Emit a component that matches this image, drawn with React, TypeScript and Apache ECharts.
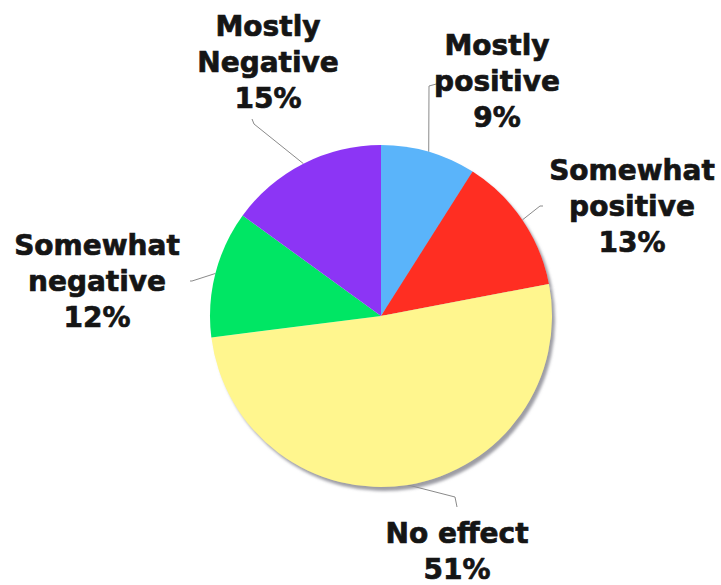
import React, { useEffect, useRef } from "react";
import * as echarts from "echarts";

const categories = ["Mostly\npositive", "Somewhat\npositive", "No effect", "Somewhat\nnegative", "Mostly\nNegative"];
const values = [9, 13, 51, 12, 15];
const colors = ["#5ab4fa", "#ff2e22", "#fff68e", "#00e664", "#8c35f5"];
const labelPos: [number, number][] = [
  [497, 81],
  [632, 206],
  [457, 551],
  [97, 281],
  [268, 62],
];
// bend and end points of each label's guide line
const guidePts: [number, number][][] = [
  [[429, 86], [440, 83]],
  [[540, 206], [543, 206]],
  [[455, 497], [457, 507]],
  [[192, 281], [190, 281]],
  [[254, 124], [252, 119]],
];

export default function App() {
  const ref = useRef<HTMLDivElement>(null);
  useEffect(() => {
    document.body.style.margin = "0";
    const chart = echarts.init(ref.current!, null, { renderer: "svg" });
    const shadowIdx = [0, 1, 2];
    chart.setOption({
      animation: false,
      backgroundColor: "#ffffff",
      series: [
        {
          type: "pie",
          center: [381, 316],
          radius: 171,
          startAngle: 90,
          clockwise: true,
          label: {
            show: true,
            formatter: (p: any) => `${p.name}\n${p.value}%`,
            fontFamily: "DejaVu Sans",
            fontWeight: "bold",
            fontSize: 28,
            lineHeight: 36,
            color: "#151515",
            textBorderColor: "#151515",
            textBorderWidth: 0.7,
            align: "center",
            overflow: "none",
          },
          labelLine: {
            show: true,
            length: 20,
            length2: 12,
            lineStyle: { color: "#8a8a8a", width: 1 },
          },
          labelLayout: (params: any) => {
            const i = params.dataIndex;
            const pos = labelPos[i];
            const start = params.labelLinePoints && params.labelLinePoints[0];
            const res: any = { x: pos[0], y: pos[1], align: "center", verticalAlign: "middle" };
            if (start) res.labelLinePoints = [start, guidePts[i][0], guidePts[i][1]];
            return res;
          },
          data: values.map((v, i) => ({
            name: categories[i],
            value: v,
            itemStyle: {
              color: colors[i],
              borderWidth: 0,
              ...(shadowIdx.includes(i)
                ? { shadowColor: "rgba(140,140,148,0.85)", shadowBlur: 3, shadowOffsetX: 3, shadowOffsetY: 4 }
                : {}),
            },
          })),
        },
      ],
    });
    return () => chart.dispose();
  }, []);
  return <div ref={ref} style={{ width: 721, height: 585 }} />;
}
